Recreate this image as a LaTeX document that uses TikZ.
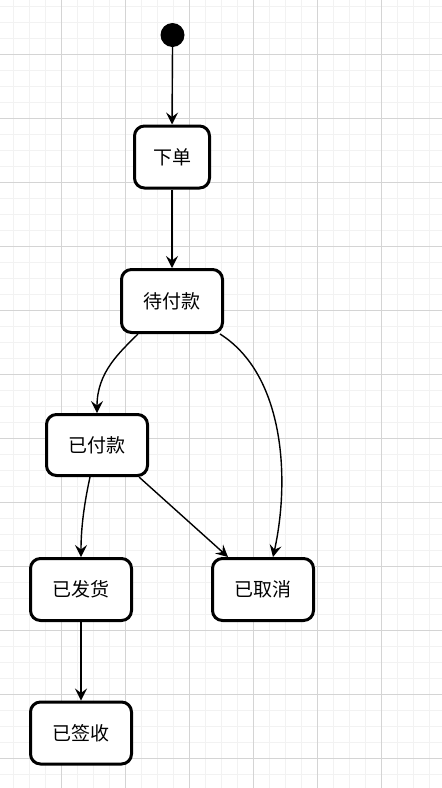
\documentclass[tikz,border=0pt]{standalone}
\usepackage{fontspec}
\newfontfamily\cjk{Noto Sans CJK SC}
\usetikzlibrary{arrows.meta}
\definecolor{gridminor}{HTML}{F2F2F2}
\definecolor{gridmajor}{HTML}{D4D4D4}
\begin{document}
\begin{tikzpicture}[x=1pt,y=-1pt,
  state/.style={draw=black,line width=3pt,rounded corners=10pt,fill=white,
    minimum width=101pt,minimum height=62pt,inner sep=0pt,font=\cjk\fontsize{19}{21}\selectfont},
  edge/.style={line width=1.4pt,-{Stealth[length=12pt,width=12pt,inset=4.5pt]}},
  minorline/.style={gridminor,line width=1pt},
  majorline/.style={gridmajor,line width=1pt}]
\useasboundingbox (0,0) rectangle (442,788);
\fill[white] (0,0) rectangle (442,788);
\foreach \x in {13.7,29.7,...,442} \draw[minorline] (\x,0) -- (\x,788);
\foreach \y in {6.3,22.3,...,788} \draw[minorline] (0,\y) -- (442,\y);
\foreach \x in {61.7,125.7,...,442} \draw[majorline] (\x,0) -- (\x,788);
\foreach \y in {54.3,118.3,...,788} \draw[majorline] (0,\y) -- (442,\y);

\node[circle,fill=black,minimum size=24pt,inner sep=0pt] (start) at (172.5,35) {};
\node[state,minimum width=75pt] (xd) at (172,157) {下单};
\node[state,minimum height=63pt] (dfk) at (172,301) {待付款};
\node[state,minimum height=61pt] (yfk) at (97,445) {已付款};
\node[state] (yfh) at (81,589.5) {已发货};
\node[state] (yqx) at (263,589.5) {已取消};
\node[state] (yqs) at (81,733) {已签收};

\draw[edge] (start.south) -- (xd.north);
\draw[edge] (xd.south) -- (dfk.north);
\draw[edge] ([xshift=-34pt]dfk.south) .. controls (120,352) and (97,372) .. (yfk.north);
\draw[edge] ([xshift=48pt]dfk.south) .. controls (285,375) and (290,480) .. ([xshift=10pt]yqx.north);
\draw[edge] ([xshift=-7pt]yfk.south) .. controls (85,500) and (81,525) .. (yfh.north);
\draw[edge] ([xshift=42pt]yfk.south) -- ([xshift=-35pt]yqx.north);
\draw[edge] (yfh.south) -- (yqs.north);
\end{tikzpicture}
\end{document}
